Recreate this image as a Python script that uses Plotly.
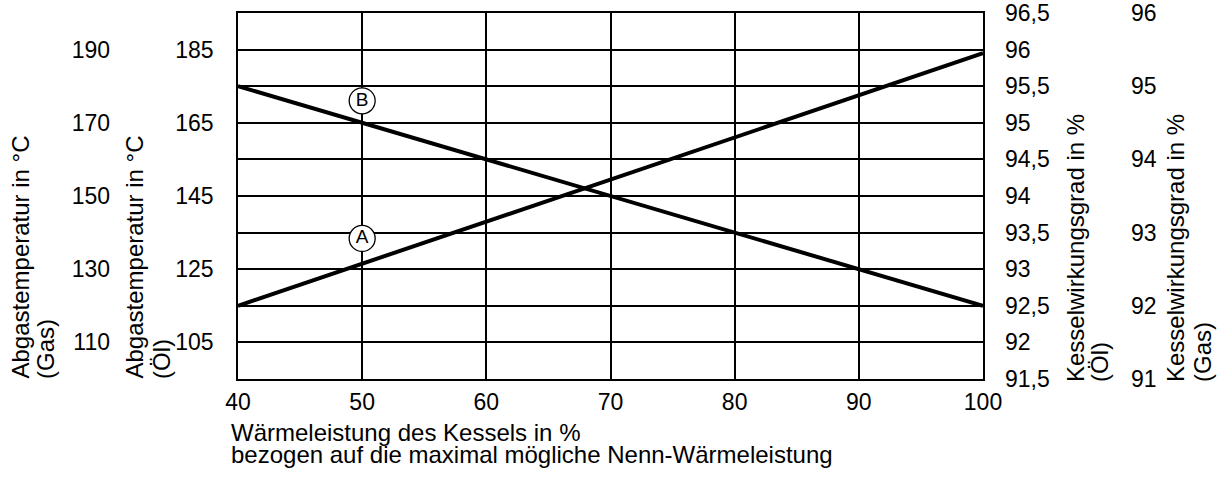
import plotly.graph_objects as go

# ---- data ----
load_pct = [40, 100]                      # Wärmeleistung des Kessels in %
abgas_oel = [115, 184]                    # curve A, Abgastemperatur (Öl) in °C
wirkungsgrad_oel = [95.5, 92.5]           # curve B, Kesselwirkungsgrad (Öl) in %

label_names = ["A", "B"]
label_x = [50, 50]
label_y_oel = [133.4, 171]                # positions of circled letters on the Öl-temperature scale

x_ticks = [40, 50, 60, 70, 80, 90, 100]
oel_temp_ticks = [105, 125, 145, 165, 185]
gas_temp_ticks = [110, 130, 150, 170, 190]
eff_oel_ticks = [91.5, 92, 92.5, 93, 93.5, 94, 94.5, 95, 95.5, 96, 96.5]
eff_oel_text = ["91,5", "92", "92,5", "93", "93,5", "94", "94,5", "95", "95,5", "96", "96,5"]
eff_gas_ticks = [91, 92, 93, 94, 95, 96]

W, H = 1221, 477
L, R, T, B = 238, 983, 13, 379
FONT = "Liberation Sans, Arial, sans-serif"
FS = 23      # tick labels
FT = 24      # titles

fig = go.Figure()
fig.add_trace(go.Scatter(x=load_pct, y=abgas_oel, mode="lines", yaxis="y",
                         line=dict(color="black", width=4), showlegend=False))
fig.add_trace(go.Scatter(x=load_pct, y=wirkungsgrad_oel, mode="lines", yaxis="y3",
                         line=dict(color="black", width=4), showlegend=False))
fig.add_trace(go.Scatter(x=label_x, y=label_y_oel, mode="markers+text", yaxis="y",
                         text=label_names, textposition="middle center",
                         textfont=dict(family=FONT, size=19, color="black"),
                         marker=dict(size=26, color="white", line=dict(color="black", width=1.3)),
                         cliponaxis=False, showlegend=False))
# traces that make the two extra scales visible
fig.add_trace(go.Scatter(x=[None], y=[None], yaxis="y2", showlegend=False))
fig.add_trace(go.Scatter(x=[None], y=[None], yaxis="y4", showlegend=False))

ph = B - T
def py(pix):
    return (B - pix) / ph

axis_common = dict(ticks="", zeroline=False, automargin=False,
                   tickfont=dict(family=FONT, size=FS, color="black"))

fig.update_layout(
    width=W, height=H,
    margin=dict(l=0, r=0, t=T, b=H - B, autoexpand=False),
    paper_bgcolor="white", plot_bgcolor="white",
    font=dict(family=FONT, size=FS, color="black"),
    xaxis=dict(domain=[L / W, R / W], range=[40, 100], tickvals=x_ticks,
               showgrid=True, gridcolor="black", gridwidth=1.5,
               showline=True, linecolor="black", linewidth=1.5, mirror=True,
               ticklabelstandoff=2, **axis_common),
    yaxis=dict(range=[95, 195], tickvals=oel_temp_ticks, showgrid=False,
               showline=True, linecolor="black", linewidth=1.5, mirror=True,
               ticklabelstandoff=18, **axis_common),
    yaxis2=dict(range=[100, 200], tickvals=gas_temp_ticks, overlaying="y", side="left",
                anchor="free", position=110 / W, showgrid=False, showline=False,
                **axis_common),
    yaxis3=dict(range=[91.5, 96.5], tickvals=eff_oel_ticks, ticktext=eff_oel_text,
                overlaying="y", side="right", anchor="x", showgrid=True,
                gridcolor="black", gridwidth=1.5, showline=False,
                ticklabelstandoff=21, **axis_common),
    yaxis4=dict(range=[91, 96], tickvals=eff_gas_ticks, overlaying="y", side="right",
                anchor="free", position=1130 / W, showgrid=False, showline=False,
                **axis_common),
)

def vline_text(text, xc, ybottom):
    fig.add_annotation(text=text, xref="paper", yref="paper", x=xc / W, y=py(ybottom),
                       xanchor="center", yanchor="bottom", textangle=-90,
                       showarrow=False, font=dict(family=FONT, size=FT, color="black"))

vline_text("Abgastemperatur in °C", 20, 381)
vline_text("(Gas)", 45, 381)
vline_text("Abgastemperatur in °C", 134, 381)
vline_text("(Öl)", 161, 381)
vline_text("Kesselwirkungsgrad in %", 1076, 384)
vline_text("(Öl)", 1100, 384)
vline_text("Kesselwirkungsgrad in %", 1176, 384)
vline_text("(Gas)", 1203, 384)

def hline_text(text, xl, ytop):
    fig.add_annotation(text=text, xref="paper", yref="paper", x=xl / W, y=py(ytop),
                       xanchor="left", yanchor="top", showarrow=False,
                       font=dict(family=FONT, size=FT, color="black"))

hline_text("Wärmeleistung des Kessels in %", 229, 417)
hline_text("bezogen auf die maximal mögliche Nenn-Wärmeleistung", 229, 439)

fig.write_html("out.html", config={"displayModeBar": False},
               post_script="document.body.style.margin='0';document.body.style.overflow='hidden';")
